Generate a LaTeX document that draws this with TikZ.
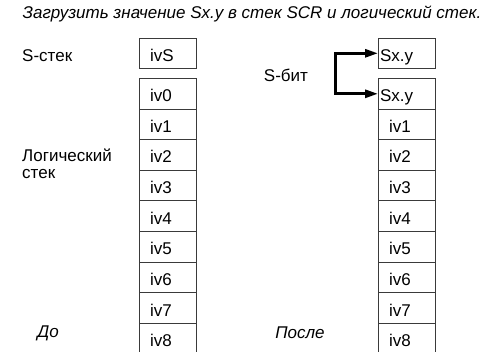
\documentclass[tikz,border=0pt]{standalone}
\usepackage{fontspec}
\setmainfont{Liberation Sans}
\usetikzlibrary{arrows.meta,positioning}
\definecolor{Ink}{HTML}{000000}
\definecolor{Frame}{HTML}{3A3A3A}
\tikzset{
  cellbox/.style={draw=Frame,line width=0.9pt,outer sep=0pt,minimum height=30.6pt,text width=35pt,inner xsep=11pt,inner ysep=0pt,text height=16pt,text depth=0pt,align=left,font=\fontsize{17}{19}\selectfont,text=Ink},
  sbitbox/.style={cellbox,text width=53pt,inner xsep=2pt},
  labeltext/.style={font=\fontsize{17}{17}\selectfont,text=Ink,align=left,inner sep=0pt},
  notetext/.style={font=\fontsize{17}{19}\selectfont\itshape,text=Ink,inner sep=0pt},
  link/.style={{Triangle[length=13pt,width=8pt]}-{Triangle[length=13pt,width=8pt]},draw=Ink,line width=2.8pt}
}

\begin{document}
\begin{tikzpicture}[x=1pt,y=-1pt]
  \useasboundingbox (0,0) rectangle (484,352);
  \node[notetext] (title) at (252,14) {Загрузить значение Sx.y в стек SCR и логический стек.};

  \node[cellbox,anchor=north west] (lS) at (139,38) {ivS};
  \node[cellbox,anchor=north west] (l0) at (139,78.5) {iv0};
  \foreach \i [count=\j from 0] in {1,...,8}
    \node[cellbox,below=0pt of l\j] (l\i) {iv\i};

  \node[sbitbox,anchor=north west] (rS) at (378,38) {Sx.y};
  \node[sbitbox,anchor=north west] (r0) at (378,78.5) {Sx.y};
  \foreach \i [count=\j from 0] in {1,...,8}
    \node[cellbox,below=0pt of r\j] (r\i) {iv\i};

  \node[labeltext,anchor=west] (sstack) at (22,56) {S-стек};
  \node[labeltext,anchor=north west] (lstack) at (22,149) {Логический\\стек};
  \node[labeltext] (sbit) at (286,75) {S-бит};
  \node[notetext] (before) at (48,333) {До};
  \node[notetext] (after) at (300,333) {После};

  \coordinate (fork) at (335.5,73);
  \draw[link] (rS.west) -| (fork) |- (r0.west);
\end{tikzpicture}
\end{document}
